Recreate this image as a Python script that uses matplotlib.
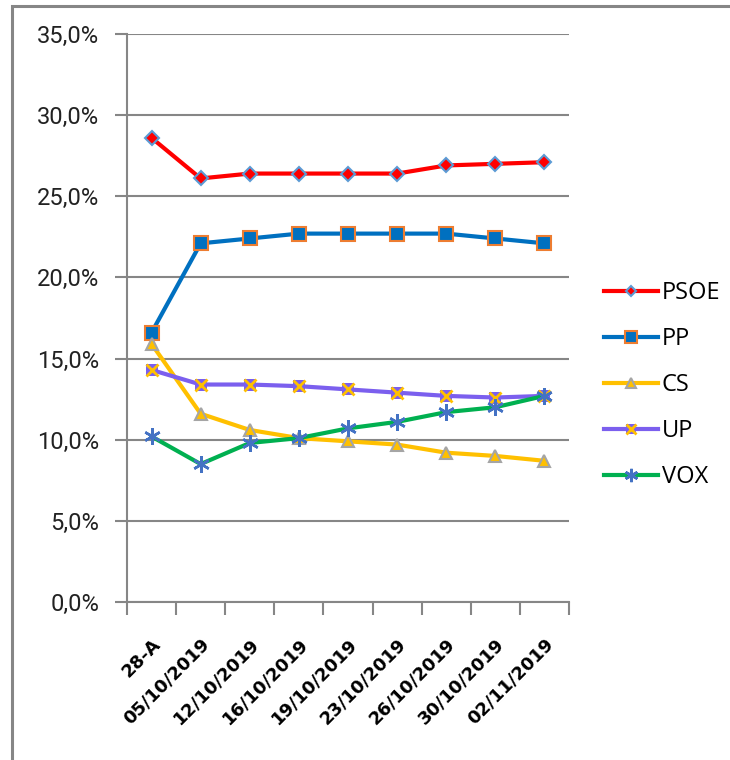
import matplotlib
matplotlib.use('Agg')
import matplotlib.pyplot as plt
from matplotlib.patches import Rectangle
from matplotlib.legend_handler import HandlerTuple
from matplotlib.ticker import FuncFormatter, MultipleLocator

# ── data ─────────────────────────────────────────────────────────────────────
fechas = ["28-A", "05/10/2019", "12/10/2019", "16/10/2019", "19/10/2019",
          "23/10/2019", "26/10/2019", "30/10/2019", "02/11/2019"]
psoe = [28.6, 26.1, 26.4, 26.4, 26.4, 26.4, 26.9, 27.0, 27.1]
pp   = [16.6, 22.1, 22.4, 22.7, 22.7, 22.7, 22.7, 22.4, 22.1]
cs   = [15.9, 11.6, 10.6, 10.1,  9.9,  9.7,  9.2,  9.0,  8.7]
up   = [14.3, 13.4, 13.4, 13.3, 13.1, 12.9, 12.7, 12.6, 12.7]
vox  = [10.2,  8.5,  9.8, 10.1, 10.7, 11.1, 11.7, 12.0, 12.7]

# ── colours ──────────────────────────────────────────────────────────────────
GRID = "#868686"
RED, BLUE, ORANGE = "#FF0000", "#0070C0", "#ED7D31"
GOLD, GREY = "#FFC000", "#A5A5A5"
PURPLE, GREEN, LBLUE = "#7B5FEE", "#00B050", "#4472C4"
DIAM_EDGE = "#5B9BD5"

fig = plt.figure(figsize=(7.3, 7.6), dpi=100, facecolor="white")
ax = fig.add_axes([127 / 730, 1 - 602 / 760, 442 / 730, 568 / 760])

# chart frame (border cut by the image edge)
fig.patches.append(Rectangle((12 / 730, -0.1), 1.2, 1 - 6 / 760 + 0.1,
                             transform=fig.transFigure, fill=False,
                             edgecolor=GRID, linewidth=2.2))

x = range(len(fechas))
lw = 3

l1, = ax.plot(x, psoe, color=RED, lw=lw, marker='D', ms=7,
              mfc=RED, mec=DIAM_EDGE, mew=1.5)
l2, = ax.plot(x, pp, color=BLUE, lw=lw, marker='s', ms=10,
              mfc=BLUE, mec=ORANGE, mew=1.5)
l3, = ax.plot(x, cs, color=GOLD, lw=lw, marker='^', ms=9,
              mfc=GOLD, mec=GREY, mew=1.5)
l4, = ax.plot(x, up, color=PURPLE, lw=lw, marker='s', ms=9,
              mfc=PURPLE, mec=PURPLE, mew=0)
l4x, = ax.plot(x, up, ls='none', marker='x', ms=9, mec=GOLD, mew=2)
l5, = ax.plot(x, vox, color=GREEN, lw=lw)
l5x, = ax.plot(x, vox, ls='none', marker=(6, 2, 0), ms=12, mec=LBLUE, mew=1.8)

# ── axes styling ─────────────────────────────────────────────────────────────
ax.set_xlim(-0.5, len(fechas) - 0.5)
ax.set_ylim(0, 35)
ax.yaxis.set_major_locator(MultipleLocator(5))
ax.yaxis.set_major_formatter(FuncFormatter(lambda v, p: f"{v:.1f}%".replace('.', ',')))
ax.grid(axis='y', color=GRID, lw=1.5)
ax.set_axisbelow(True)
for s in ['top', 'right']:
    ax.spines[s].set_visible(False)
for s in ['left', 'bottom']:
    ax.spines[s].set_color(GRID)
    ax.spines[s].set_linewidth(1.5)

ax.set_xticks([i - 0.5 for i in range(len(fechas) + 1)], minor=False)
ax.set_xticklabels([])
ax.set_xticks(list(x), minor=True)
ax.set_xticklabels(fechas, minor=True, rotation=45, ha='right',
                   rotation_mode='anchor', fontsize=13, fontweight='bold',
                   family='DejaVu Sans')
ax.tick_params(axis='x', which='major', length=9, width=1.5, color=GRID,
               direction='out')
ax.tick_params(axis='x', which='minor', length=0, pad=24)
ax.tick_params(axis='y', length=9, width=1.5, color=GRID, pad=11,
               labelsize=17, labelcolor="#222222")
for t in ax.get_yticklabels():
    t.set_family('Roboto')

leg = fig.legend([l1, l2, l3, (l4, l4x), (l5, l5x)],
                 ["PSOE", "PP", "CS", "UP", "VOX"],
                 handler_map={tuple: HandlerTuple(ndivide=1)},
                 loc='upper left', bbox_to_anchor=(604 / 730, 1 - 281 / 760),
                 frameon=False, labelspacing=0.93, borderpad=0,
                 borderaxespad=0, handlelength=2.3, handletextpad=0.15,
                 markerscale=0.8,
                 prop={'family': 'Open Sans', 'size': 17})

fig.savefig("out.png", dpi=100, facecolor="white")
